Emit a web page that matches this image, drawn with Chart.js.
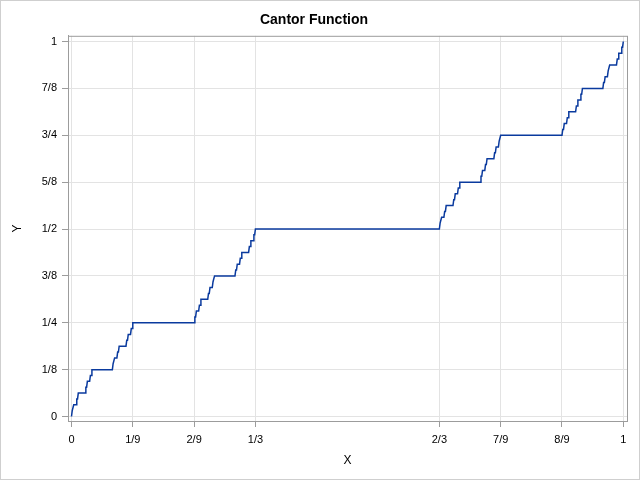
<!DOCTYPE html>
<html>
<head>
<meta charset="utf-8">
<title>Cantor Function</title>
<script src="https://cdn.jsdelivr.net/npm/chart.js@4"></script>
<style>
  body { margin: 0; background: #fff; }
  #wrap { width: 640px; height: 480px; box-sizing: border-box; border: 1px solid #cfcfcf; background: #fff; }
  canvas { display: block; }
</style>
</head>
<body>
<div id="wrap"><canvas id="canvas" width="638" height="478"></canvas></div>
<script>
// plateaus of the staircase: x in 729ths, level in 64ths
var plateauStart = [1, 3, 7, 9, 19, 21, 25, 27, 55, 57, 61, 63, 73, 75, 79, 81,
    163, 165, 169, 171, 181, 183, 187, 189, 217, 219, 223, 225, 235, 237, 241, 243,
    487, 489, 493, 495, 505, 507, 511, 513, 541, 543, 547, 549, 559, 561, 565, 567,
    649, 651, 655, 657, 667, 669, 673, 675, 703, 705, 709, 711, 721, 723, 727];
var plateauEnd = [2, 6, 8, 18, 20, 24, 26, 54, 56, 60, 62, 72, 74, 78, 80, 162,
    164, 168, 170, 180, 182, 186, 188, 216, 218, 222, 224, 234, 236, 240, 242, 486,
    488, 492, 494, 504, 506, 510, 512, 540, 542, 546, 548, 558, 560, 564, 566, 648,
    650, 654, 656, 666, 668, 672, 674, 702, 704, 708, 710, 720, 722, 726, 728];
var plateauLevel = [1, 2, 3, 4, 5, 6, 7, 8, 9, 10, 11, 12, 13, 14, 15, 16,
    17, 18, 19, 20, 21, 22, 23, 24, 25, 26, 27, 28, 29, 30, 31, 32,
    33, 34, 35, 36, 37, 38, 39, 40, 41, 42, 43, 44, 45, 46, 47, 48,
    49, 50, 51, 52, 53, 54, 55, 56, 57, 58, 59, 60, 61, 62, 63];

var xTickValues = [0, 1/9, 2/9, 1/3, 2/3, 7/9, 8/9, 1];
var xTickLabels = ['0', '1/9', '2/9', '1/3', '2/3', '7/9', '8/9', '1'];
var yTickValues = [0, 1/8, 2/8, 3/8, 4/8, 5/8, 6/8, 7/8, 1];
var yTickLabels = ['0', '1/8', '1/4', '3/8', '1/2', '5/8', '3/4', '7/8', '1'];

const points = [{x: 0, y: 0}];
for (let i = 0; i < plateauStart.length; i++) {
    points.push({x: plateauStart[i] / 729, y: plateauLevel[i] / 64});
    points.push({x: plateauEnd[i] / 729, y: plateauLevel[i] / 64});
}
points.push({x: 1, y: 1});

const gridColor = '#e3e3e3';
const frameColor = '#9c9c9c';
const textFont = {family: "'Liberation Sans', Arial, sans-serif", size: 11};

// box round the plot area (top and right sides are not drawn by the scales)
const framePlugin = {
    id: 'frame',
    afterDraw(chart) {
        const a = chart.chartArea;
        const ctx = chart.ctx;
        ctx.save();
        ctx.strokeStyle = frameColor;
        ctx.lineWidth = 1;
        ctx.strokeRect(a.left + 0.5, a.top + 0.5, a.right - a.left, a.bottom - a.top);
        ctx.restore();
    }
};

var config = {
    type: 'line',
    data: {
        datasets: [{
            label: 'Cantor',
            data: points,
            borderColor: '#0a3a9e',
            borderWidth: 1.5,
            pointRadius: 0,
            fill: false,
            tension: 0
        }]
    },
    options: {
        responsive: false,
        animation: false,
        layout: { padding: { left: 0, right: 12, top: 0, bottom: 0 } },
        plugins: {
            legend: { display: false },
            tooltip: { enabled: false },
            title: {
                display: true,
                text: 'Cantor Function',
                color: '#000',
                font: { family: "'Liberation Sans', Arial, sans-serif", size: 14, weight: 'bold' },
                padding: { top: 11, bottom: 7 }
            }
        },
        scales: {
            x: {
                type: 'linear',
                min: -0.0063,
                max: 1.0067,
                afterBuildTicks: (scale) => { scale.ticks = xTickValues.map(v => ({value: v})); },
                afterFit: (scale) => { scale.height = 58; },
                ticks: {
                    autoSkip: false,
                    maxRotation: 0,
                    padding: 6,
                    color: '#000',
                    font: textFont,
                    callback: (value, index) => xTickLabels[index]
                },
                grid: { color: gridColor, tickColor: frameColor, tickLength: 6 },
                border: { color: frameColor },
                title: {
                    display: true,
                    text: 'X',
                    color: '#000',
                    font: { family: "'Liberation Sans', Arial, sans-serif", size: 12 },
                    padding: { top: 0, bottom: 11 }
                }
            },
            y: {
                type: 'linear',
                min: -0.012,
                max: 1.0152,
                afterBuildTicks: (scale) => { scale.ticks = yTickValues.map(v => ({value: v})); },
                afterFit: (scale) => { scale.width = 67; },
                ticks: {
                    autoSkip: false,
                    padding: 5,
                    color: '#000',
                    font: textFont,
                    callback: (value, index) => yTickLabels[index]
                },
                grid: { color: gridColor, tickColor: frameColor, tickLength: 6 },
                border: { color: frameColor },
                title: {
                    display: true,
                    text: 'Y',
                    color: '#000',
                    font: { family: "'Liberation Sans', Arial, sans-serif", size: 12 },
                    padding: { top: 9, bottom: 0 }
                }
            }
        }
    },
    plugins: [framePlugin]
};

var ctx = document.getElementById('canvas').getContext('2d');
window.myLine = new Chart(ctx, config);
</script>
</body>
</html>
